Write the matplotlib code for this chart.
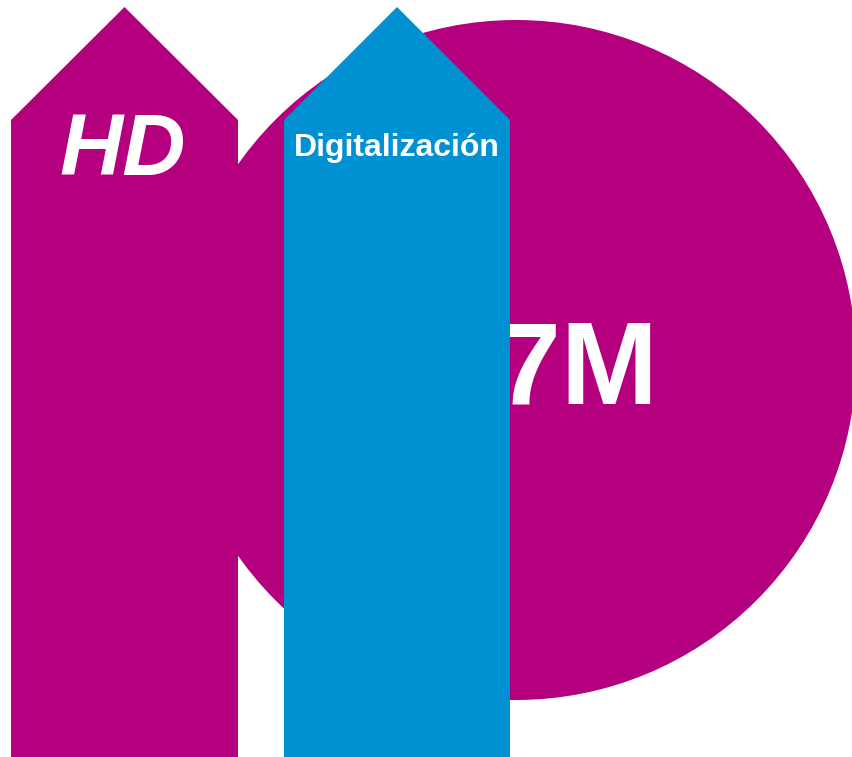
import matplotlib
matplotlib.use("Agg")
import matplotlib.pyplot as plt
from matplotlib.patches import Circle, Polygon

# ---- content ----
arrow_labels = ["HD", "Digitalización"]
arrow_colors = ["#B4007F", "#0091D2"]
big_value_label = "7M"
circle_color = "#B4007F"

W, H = 852, 757
fig = plt.figure(figsize=(W / 100, H / 100), dpi=100)
ax = fig.add_axes([0, 0, 1, 1])
ax.set_xlim(0, W)
ax.set_ylim(H, 0)
ax.axis("off")

# big circle
ax.add_patch(Circle((516, 360), 340, facecolor=circle_color, edgecolor="none", zorder=1))

# value text (partly hidden by blue arrow)
ax.text(658, 403, big_value_label, color="white", fontsize=84, fontweight="bold",
        family="Liberation Sans", ha="right", va="baseline", zorder=2)

# arrows: (left, right, tip_y, shoulder_y)
arrow_geo = [(11, 238, 7, 120), (284, 510, 7, 120)]
for (l, r, ty, sy), col in zip(arrow_geo, arrow_colors):
    pts = [(l, H + 5), (l, sy), ((l + r) / 2, ty), (r, sy), (r, H + 5)]
    ax.add_patch(Polygon(pts, closed=True, facecolor=col, edgecolor="none", zorder=3))

# labels
ax.text(123, 175, arrow_labels[0], color="white", fontsize=63, fontweight="heavy",
        fontstyle="italic", family="Liberation Sans", ha="center", va="baseline", zorder=4)
ax.text(397, 156, arrow_labels[1], color="white", fontsize=23, fontweight="bold",
        family="Liberation Sans", ha="center", va="baseline", zorder=4)

fig.savefig("out.png", dpi=100)
